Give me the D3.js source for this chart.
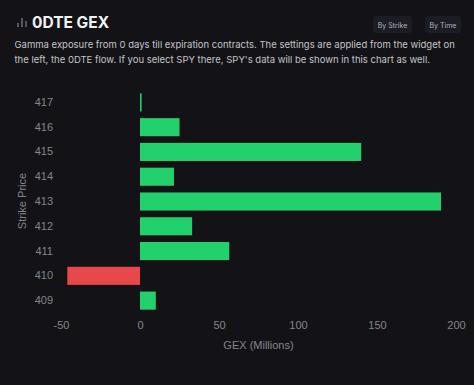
<!DOCTYPE html>
<html lang="en">
<head>
    <meta charset="UTF-8">
    <title>0DTE GEX</title>
    <script src="https://d3js.org/d3.v7.min.js"></script>
    <style>
        html, body { margin: 0; padding: 0; background: #131317; }
        svg { display: block; }
    </style>
</head>
<body>
    <div id="chart"></div>
    <script>
        const strikes = ["417", "416", "415", "414", "413", "412", "411", "410", "409"];
        const gexValues = [1, 25, 140, 21.5, 190.5, 33, 56.5, -46, 10];
        const xTicks = [-50, 0, 50, 100, 150, 200];
        const descLines = [
            "Gamma exposure from 0 days till expiration contracts. The settings are applied from the widget on",
            "the left, the 0DTE flow. If you select SPY there, SPY's data will be shown in this chart as well."
        ];
        const buttons = ["By Strike", "By Time"];
        const iconBars = [4, 9, 6];

        const width = 474, height = 385;
        const margin = { top: 90, left: 61, right: 18, bottom: 72 };

        const svg = d3.select("#chart").append("svg")
            .attr("width", width)
            .attr("height", height)
            .style("font-family", "Inter, sans-serif");

        svg.append("rect").attr("width", width).attr("height", height).attr("fill", "#131317");

        // Scales
        const xScale = d3.scaleLinear().domain([-50, 200]).range([margin.left, width - margin.right]);
        const yScale = d3.scaleBand().domain(strikes).range([margin.top, height - margin.bottom])
            .paddingInner(0.27).paddingOuter(0.135);

        // Header
        svg.selectAll(".icon").data(iconBars).enter().append("rect")
            .attr("class", "icon")
            .attr("x", (d, i) => 17.5 + i * 4)
            .attr("y", d => 27 - d)
            .attr("width", 1)
            .attr("height", d => d)
            .attr("fill", "#9a9aa0");

        svg.append("text").attr("x", 32).attr("y", 28)
            .attr("fill", "#f2f2f4").attr("font-size", 15.5).attr("font-weight", 700)
            .text("0DTE GEX");

        svg.selectAll(".desc").data(descLines).enter().append("text")
            .attr("class", "desc")
            .attr("x", 14.5)
            .attr("y", (d, i) => 48 + i * 15)
            .attr("fill", "#c4c4c8")
            .attr("font-size", 9.5)
            .text(d => d);

        const btnX = [373, 425];
        const btnW = [39, 36];
        buttons.forEach((b, i) => {
            svg.append("rect").attr("x", btnX[i]).attr("y", 16).attr("width", btnW[i]).attr("height", 17)
                .attr("rx", 3).attr("fill", "#1c1c25");
            svg.append("text").attr("x", btnX[i] + btnW[i] / 2).attr("y", 27.5)
                .attr("text-anchor", "middle").attr("fill", "#b4b4ba").attr("font-size", 7)
                .text(b);
        });

        // Bars
        svg.selectAll(".bar").data(strikes).enter().append("rect")
            .attr("class", "bar")
            .attr("x", (d, i) => xScale(Math.min(0, gexValues[i])))
            .attr("y", d => yScale(d))
            .attr("width", (d, i) => Math.abs(xScale(gexValues[i]) - xScale(0)))
            .attr("height", yScale.bandwidth())
            .attr("fill", (d, i) => gexValues[i] < 0 ? "#e8474b" : "#22d06c");

        // Axes
        const xAxis = svg.append("g")
            .attr("transform", `translate(0, ${height - margin.bottom + 8})`)
            .call(d3.axisBottom(xScale).tickValues(xTicks).tickFormat(d => String(d)).tickSize(0).tickPadding(0));
        const yAxis = svg.append("g")
            .attr("transform", `translate(${margin.left - 8}, 0)`)
            .call(d3.axisLeft(yScale).tickSize(0).tickPadding(0));

        [xAxis, yAxis].forEach(a => {
            a.select(".domain").remove();
            a.selectAll("text")
                .attr("fill", "#85858a")
                .attr("font-size", 11)
                .style("font-family", "Arial, 'Liberation Sans', sans-serif");
        });

        svg.append("text").attr("x", 258.5).attr("y", 349)
            .attr("text-anchor", "middle").attr("fill", "#85858a").attr("font-size", 11)
            .style("font-family", "Arial, 'Liberation Sans', sans-serif")
            .text("GEX (Millions)");

        svg.append("text")
            .attr("transform", "translate(26, 201) rotate(-90)")
            .attr("text-anchor", "middle").attr("fill", "#85858a").attr("font-size", 11)
            .style("font-family", "Arial, 'Liberation Sans', sans-serif")
            .text("Strike Price");
    </script>
</body>
</html>
